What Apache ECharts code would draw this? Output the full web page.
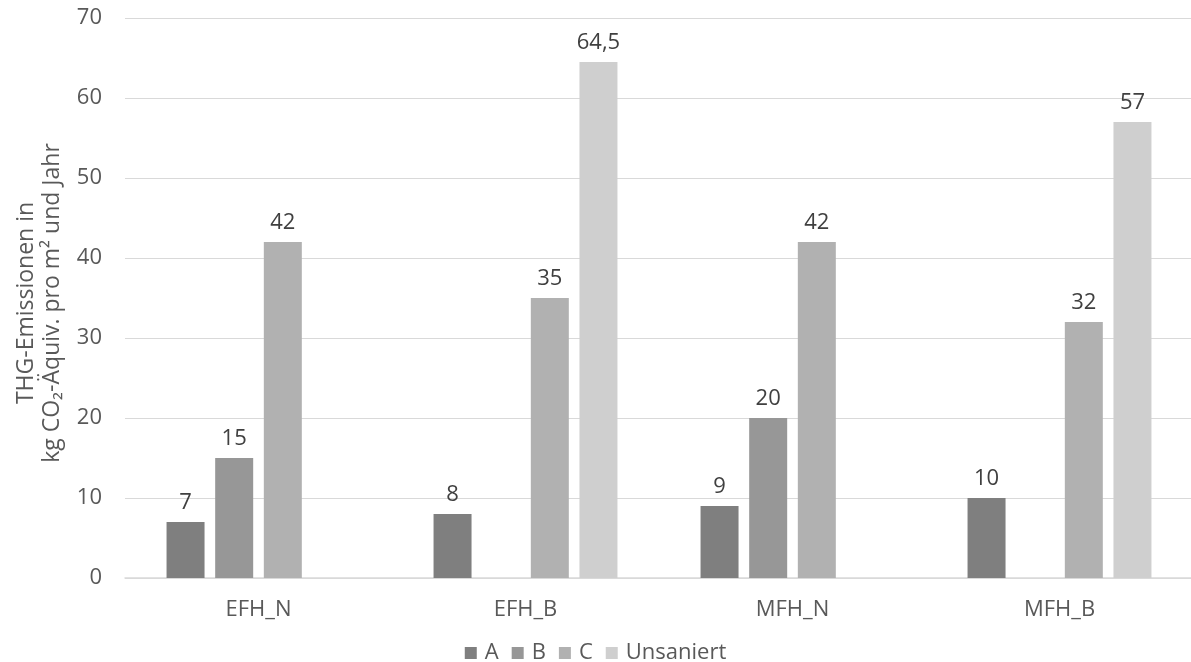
<!DOCTYPE html>
<html>
<head>
<meta charset="utf-8">
<script src="https://cdn.jsdelivr.net/npm/echarts@6/dist/echarts.min.js"></script>
<style>
  html, body { margin: 0; padding: 0; background: #fff; }
  #chart { width: 1191px; height: 662px; }
</style>
</head>
<body>
<div id="chart"></div>
<script>
// Building types on the category axis
const categories = ['EFH_N', 'EFH_B', 'MFH_N', 'MFH_B'];

// Emissions per renovation standard (kg CO2-equiv. per m² and year)
const seriesNames = ['A', 'B', 'C', 'Unsaniert'];
const valuesA = [7, 8, 9, 10];
const valuesB = [15, null, 20, null];
const valuesC = [42, 35, 42, 32];
const valuesUnsaniert = [null, 64.5, null, 57];

// Value axis ticks
const yMin = 0;
const yMax = 70;
const yStep = 10;

const colors = ['#7f7f7f', '#979797', '#b1b1b1', '#cfcfcf'];
const fontFamily = '"Open Sans", "Noto Sans", sans-serif';

const chart = echarts.init(document.getElementById('chart'));

function makeSeries(name, data, color) {
  return {
    name: name,
    type: 'bar',
    data: data,
    barWidth: 38,
    barGap: '28%',
    itemStyle: { color: color },
    label: {
      show: true,
      position: 'top',
      distance: 8,
      color: '#404040',
      fontSize: 22,
      fontFamily: fontFamily,
      formatter: p => String(p.value).replace('.', ',')
    }
  };
}

chart.setOption({
  animation: false,
  textStyle: { fontFamily: fontFamily },
  grid: { left: 125, top: 18, width: 1068, height: 560, outerBoundsMode: 'none', containLabel: false },
  legend: {
    top: 637,
    left: 'center',
    itemWidth: 12,
    itemHeight: 12,
    itemGap: 13,
    icon: 'rect',
    textStyle: { color: '#595959', fontSize: 22, fontFamily: fontFamily, padding: [0, 0, 0, 3] },
    data: seriesNames
  },
  xAxis: {
    type: 'category',
    data: categories,
    axisLine: { lineStyle: { color: '#d9d9d9', width: 1.5 } },
    axisTick: { show: false },
    axisLabel: { color: '#595959', fontSize: 22, margin: 21, fontFamily: fontFamily }
  },
  yAxis: {
    type: 'value',
    min: yMin,
    max: yMax,
    interval: yStep,
    name: 'THG-Emissionen in\nkg CO₂-Äquiv. pro m² und Jahr',
    nameLocation: 'middle',
    nameGap: 58,
    nameTextStyle: {
      color: '#595959',
      fontSize: 23,
      lineHeight: 26,
      align: 'center',
      padding: [0, 10, 0, 0],
      fontFamily: fontFamily
    },
    axisLine: { show: false },
    axisTick: { show: false },
    axisLabel: { color: '#595959', fontSize: 22, margin: 23, fontFamily: fontFamily },
    splitLine: { lineStyle: { color: '#d9d9d9', width: 1.2 } }
  },
  series: [
    makeSeries(seriesNames[0], valuesA, colors[0]),
    makeSeries(seriesNames[1], valuesB, colors[1]),
    makeSeries(seriesNames[2], valuesC, colors[2]),
    makeSeries(seriesNames[3], valuesUnsaniert, colors[3])
  ]
});
</script>
</body>
</html>
